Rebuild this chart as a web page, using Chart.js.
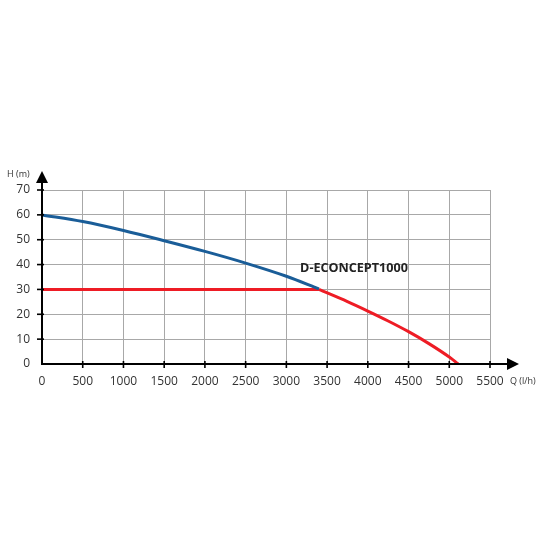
<!DOCTYPE html>
<html><head><meta charset="utf-8">
<script src="https://cdn.jsdelivr.net/npm/chart.js@4"></script>
<style>html,body{margin:0;padding:0;background:#fff}#wrap{width:550px;height:550px}</style>
</head><body><div id="wrap"><canvas id="c" width="550" height="550"></canvas></div>
<script>
const xTicks = [0,500,1000,1500,2000,2500,3000,3500,4000,4500,5000,5500];
const yTicks = [0,10,20,30,40,50,60,70];
const blueQ = [0,500,1000,1500,2000,2500,3000,3400];
const blueH = [60,57.3,53.7,49.6,45.3,40.6,35.3,30.2];
const redFlatQ = [0,3400];
const redFlatH = [30,30];
const redQ = [3400,3750,4000,4250,4500,4750,5000,5110];
const redH = [30,25.1,21.3,17.3,13.0,8.2,2.8,0];
const modelName = 'D-ECONCEPT1000';
const labelPos = {q:3830, h:38.6};
const yTitle = 'H (m)';
const xTitle = 'Q (l/h)';

const pts = (xs,ys)=>xs.map((x,i)=>({x,y:ys[i]}));

const axesPlugin = {
  id:'axesPlugin',
  afterDatasetsDraw(chart){
    const {ctx, chartArea:a, scales:{x,y}} = chart;
    ctx.save();
    ctx.strokeStyle='#000'; ctx.fillStyle='#000'; ctx.lineWidth=2;
    ctx.beginPath(); ctx.moveTo(a.left, a.bottom+1); ctx.lineTo(a.left, 180); ctx.stroke();
    ctx.beginPath(); ctx.moveTo(a.left,171); ctx.lineTo(a.left-6,183); ctx.lineTo(a.left+6,183); ctx.closePath(); ctx.fill();
    ctx.beginPath(); ctx.moveTo(a.left-1, a.bottom); ctx.lineTo(510, a.bottom); ctx.stroke();
    ctx.beginPath(); ctx.moveTo(519,a.bottom); ctx.lineTo(507,a.bottom-6); ctx.lineTo(507,a.bottom+6); ctx.closePath(); ctx.fill();
    ctx.lineWidth=1.6;
    yTicks.forEach(v=>{ if(v===0) return; const py=y.getPixelForValue(v); ctx.beginPath(); ctx.moveTo(a.left-5,py); ctx.lineTo(a.left+2,py); ctx.stroke(); });
    xTicks.forEach(v=>{ if(v===0) return; const px=x.getPixelForValue(v); ctx.beginPath(); ctx.moveTo(px,a.bottom-3); ctx.lineTo(px,a.bottom+4); ctx.stroke(); });
    ctx.fillStyle='#333'; ctx.font='9px "Open Sans"'; ctx.textBaseline='middle';
    ctx.textAlign='left'; ctx.fillText(yTitle, 7, 174);
    ctx.fillText(xTitle, 510, 381);
    ctx.font='bold 12.6px "Open Sans"'; ctx.fillStyle='#222'; ctx.textAlign='center';
    ctx.fillText(modelName, x.getPixelForValue(labelPos.q), y.getPixelForValue(labelPos.h));
    ctx.restore();
  }
};

new Chart(document.getElementById('c'),{
  type:'line',
  data:{datasets:[
    {data:pts(blueQ,blueH), borderColor:'#1a5d98', borderWidth:3, pointRadius:0, tension:0.4, cubicInterpolationMode:'monotone', fill:false},
    {data:pts(redFlatQ,redFlatH), borderColor:'#ee1c25', borderWidth:3, pointRadius:0, tension:0, fill:false},
    {data:pts(redQ,redH), borderColor:'#ee1c25', borderWidth:3, pointRadius:0, tension:0.4, cubicInterpolationMode:'monotone', fill:false}
  ]},
  options:{
    responsive:false, animation:false, devicePixelRatio:1,
    layout:{padding:{top:190,right:60,bottom:0,left:0}},
    plugins:{legend:{display:false},tooltip:{enabled:false}},
    scales:{
      x:{type:'linear',min:0,max:5500,
        afterBuildTicks(s){s.ticks=xTicks.map(v=>({value:v}));},
        afterFit(s){s.height=186;},
        grid:{color:'#a8a8a8',lineWidth:1,drawTicks:false},
        border:{display:false},
        ticks:{padding:10,color:'#333',font:{family:'"Open Sans"',size:12},maxRotation:0,autoSkip:false,callback:v=>String(v)}},
      y:{min:0,max:70,
        afterBuildTicks(s){s.ticks=yTicks.map(v=>({value:v}));},
        afterFit(s){s.width=42;},
        grid:{color:'#a8a8a8',lineWidth:1,drawTicks:false},
        border:{display:false},
        ticks:{padding:12,color:'#333',font:{family:'"Open Sans"',size:12},callback:v=>String(v)}}
    }
  },
  plugins:[axesPlugin]
});
</script></body></html>
